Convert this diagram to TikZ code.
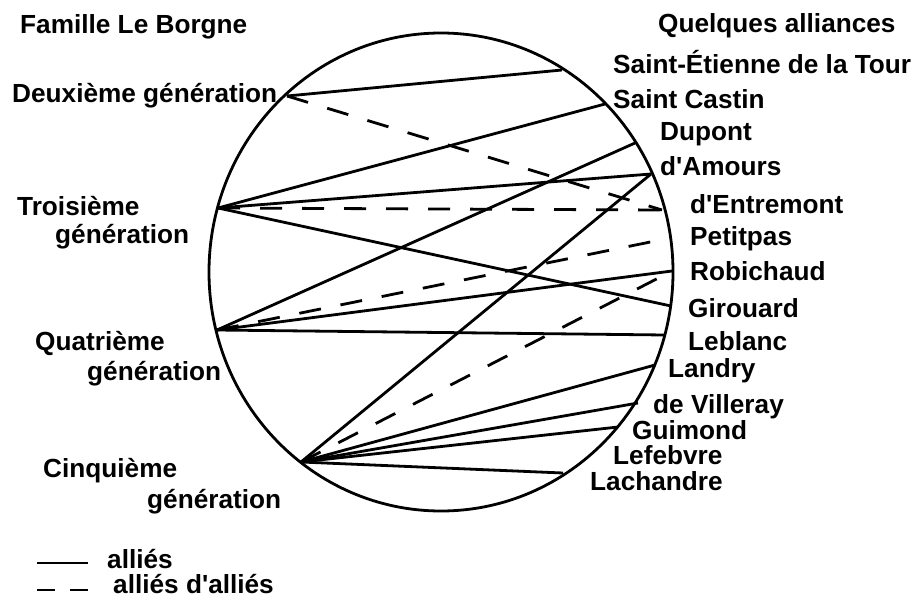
\documentclass[tikz,border=0pt]{standalone}
\usepackage{fontspec}
\setmainfont{Liberation Sans}
\begin{document}
\begin{tikzpicture}[x=1pt,y=-1pt,
  lbl/.style={font=\fontsize{26.2}{30}\selectfont\bfseries, inner sep=0pt, anchor=base west},
  ally/.style={line width=2.8pt},
  allyally/.style={line width=2.8pt, dash pattern=on 22pt off 20pt},
  ring/.style={line width=2.8pt}]
\useasboundingbox (0,0) rectangle (920,602);
\fill[white] (0,0) rectangle (920,602);
% circle
\draw[ring] (441,272) ellipse [x radius=232pt, y radius=239pt];
% left end points (generations)
\coordinate (g2) at (287,96);
\coordinate (g3) at (218,208);
\coordinate (g4) at (217,330);
\coordinate (g5) at (301,462);
% right end points (families)
\coordinate (pSE) at (562,70);
\coordinate (pSC) at (605,104);
\coordinate (pDu) at (635,143);
\coordinate (pDA) at (651,174);
\coordinate (pEn) at (662,210);
\coordinate (pPe) at (670,238);
\coordinate (pRo) at (672,271);
\coordinate (pGi) at (671,306);
\coordinate (pLe) at (665,335);
\coordinate (pLa) at (655,365);
\coordinate (pVi) at (638,403);
\coordinate (pGu) at (618,427);
\coordinate (pLc) at (563,473);
% connectors
\draw[ally] (g2) -- (pSE);
\draw[allyally] (g2) -- (pEn);
\draw[ally] (g3) -- (pSC);
\draw[ally] (g3) -- (pDA);
\draw[allyally] (g3) -- (pEn);
\draw[ally] (g3) -- (pGi);
\draw[ally] (g4) -- (pDu);
\draw[allyally] (g4) -- (pPe);
\draw[ally] (g4) -- (pRo);
\draw[ally] (g4) -- (pLe);
\draw[ally] (g5) -- (pDA);
\draw[allyally] (g5) -- (pRo);
\draw[ally] (g5) -- (pLa);
\draw[ally] (g5) -- (pVi);
\draw[ally] (g5) -- (pGu);
\draw[ally] (g5) -- (pLc);
% titles
\node[lbl] (tFam) at (20,34) {Famille Le Borgne};
\node[lbl] (tQA) at (658,33) {Quelques alliances};
% generation labels
\node[lbl] (t2) at (12,102) {Deuxième génération};
\node[lbl] (t3a) at (17,215) {Troisième};
\node[lbl] (t3b) at (55,243) {génération};
\node[lbl] (t4a) at (35,350) {Quatrième};
\node[lbl] (t4b) at (87,380) {génération};
\node[lbl] (t5a) at (43,477) {Cinquième};
\node[lbl] (t5b) at (147,508) {génération};
% family labels
\node[lbl] (fSE) at (613,74) {Saint-Étienne de la Tour};
\node[lbl] (fSC) at (613,108) {Saint Castin};
\node[lbl] (fDu) at (660,140) {Dupont};
\node[lbl] (fDA) at (660,175) {d\textquotesingle Amours};
\node[lbl] (fEn) at (690,213) {d\textquotesingle Entremont};
\node[lbl] (fPe) at (690,245) {Petitpas};
\node[lbl] (fRo) at (690,280) {Robichaud};
\node[lbl] (fGi) at (688,317) {Girouard};
\node[lbl] (fLe) at (688,350) {Leblanc};
\node[lbl] (fLa) at (668,377) {Landry};
\node[lbl] (fVi) at (653,413) {de Villeray};
\node[lbl] (fGu) at (632,439) {Guimond};
\node[lbl] (fLf) at (613,464) {Lefebvre};
\node[lbl] (fLc) at (590,490) {Lachandre};
% legend
\coordinate (l1a) at (37,563);
\coordinate (l1b) at (88,563);
\coordinate (l2a) at (37,590);
\coordinate (l2b) at (88,590);
\draw[ally] (l1a) -- (l1b);
\draw[line width=2.8pt, dash pattern=on 18pt off 15pt] (l2a) -- (l2b);
\node[lbl] (leg1) at (107,568) {alliés};
\node[lbl] (leg2) at (113,593) {alliés d\textquotesingle alliés};
\end{tikzpicture}
\end{document}
